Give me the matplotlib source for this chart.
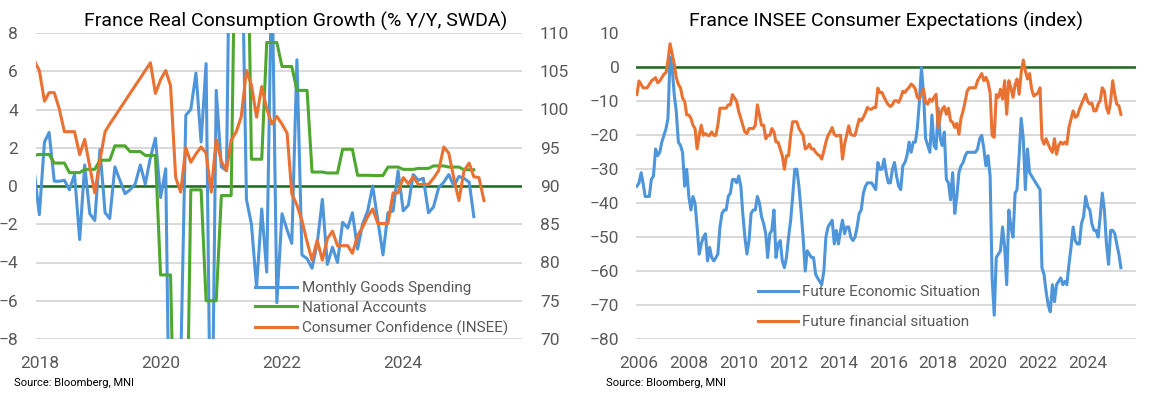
import numpy as np
import pandas as pd
import matplotlib
matplotlib.use("Agg")
import matplotlib.pyplot as plt
import matplotlib.dates as mdates

plt.rcParams['font.family'] = ['Roboto', 'DejaVu Sans']

# ---------------- left chart data (monthly from Dec 2017) ----------------
goods_spending = [0.8,
    -1.5, 2.3, 2.8, 0.25, 0.25, 0.3, -0.2, 0.6, -2.8, 1.1, -1.45, -1.8,
    1.9, -1.4, -1.7, 1.0, 0.3, -0.4, -0.2, 0.1, 1.1, 0.1, 1.5, 2.5,
    -0.6, 0.9, -18, -35, -9.5, 3.7, 4.0, 5.9, 2.3, 6.4, -17, 5.0,
    1.0, 0.8, 20, 45, 15, -0.7, -2.0, -5.3, -1.2, -4.5, 12, -6.1,
    -1.45, -2.3, -3.0, 6.6, -3.6, -3.8, -4.3, -3.0, -0.7, -4.1, -3.2, -4.0,
    -1.9, -2.2, -1.4, -3.3, -2.0, -1.3, 0.0, -1.8, -3.6, -1.4, -1.3, 0.8,
    -1.3, -1.0, 0.6, 0.3, 0.4, -1.4, -1.1, -0.1, 0.2, 0.6, 0.0, 0.5,
    0.4, 0.2, -1.6]

# national accounts: Q4 2017, then quarterly Q1 2018 .. Q1 2025
nat_acc_q4_2017 = 1.6
nat_acc_quarterly = [1.65, 1.2, 0.7, 0.87,
                     1.35, 2.1, 1.8, 1.6,
                     -4.65, -17, -0.2, -6.0,
                     -0.5, 18, 1.4, 7.5,
                     6.25, 5.0, 0.73, 0.68,
                     1.92, 0.56, 0.55, 0.99,
                     0.87, 0.92, 1.05, 0.99,
                     0.85]

consumer_conf = [106.4,
    105.1, 101.1, 102.2, 102.2, 100.1, 97.1, 97.1, 97.1, 94.1, 96.1, 92.5, 89.1,
    93.4, 97.1, 98.1, 99.1, 100.1, 101.1, 102.1, 103.1, 104.1, 105.1, 106.1, 102.1,
    103.9, 105.1, 103.1, 91.1, 89.2, 95.0, 93.1, 94.2, 95.1, 94.3, 89.2, 96.1,
    93.2, 92.0, 96.0, 97.1, 99.1, 105.1, 103.2, 99.0, 103.0, 100.1, 98.1, 99.1,
    98.1, 96.9, 89.0, 87.5, 85.5, 82.7, 80.3, 82.9, 80.3, 83.1, 84.1, 82.2,
    82.2, 82.2, 81.2, 83.5, 84.6, 86.0, 87.0, 85.1, 85.1, 85.1, 89.1, 89.1,
    91.1, 90.3, 91.2, 90.2, 90.2, 90.2, 91.0, 92.0, 95.1, 94.3, 91.0, 88.1,
    92.0, 93.0, 91.2, 91.1, 88.1]

# ---------------- right chart data (monthly from Dec 2005) ----------------
econ_situation = [-35,
    -34, -31, -34, -38, -38, -38, -33, -32, -24, -26, -25, -22,
    -20, -18, -15, 3, 0, -8, -13, -22, -23, -25, -35, -30,
    -38, -42, -38, -40, -47, -55, -52, -50, -49, -57, -53, -56,
    -57, -56, -55, -47, -43, -42, -42, -38, -37, -33, -33, -34,
    -32, -35, -43, -50, -55, -51, -43, -42, -42, -38, -40, -44,
    -46, -49, -56, -49, -48, -42, -56, -52, -51, -57, -59, -56,
    -50, -45, -38, -30, -30, -35, -42, -50, -60, -54, -55, -56,
    -56, -61, -62, -63, -64, -60, -50, -47, -46, -45, -52, -48,
    -52, -48, -45, -49, -47, -47, -50, -51, -50, -47, -43, -42,
    -37, -35, -34, -34, -34, -35, -36, -28, -30, -30, -27, -31,
    -34, -34, -30, -28, -32, -35, -36, -29, -28, -26, -22, -25,
    -22, -22, -18, -10, 0, -8, -21, -23, -25, -14, -23, -24,
    -12, -21, -23, -19, -33, -34, -39, -31, -43, -38, -31, -29,
    -28, -26, -25, -25, -25, -25, -25, -24, -21, -20, -24, -29,
    -26, -32, -62, -73, -56, -55, -54, -47, -53, -64, -42, -47,
    -50, -37, -36, -26, -15, -21, -36, -24, -31, -32, -33, -34,
    -35, -36, -59, -61, -66, -70, -72, -64, -69, -64, -63, -62,
    -64, -63, -64, -58, -53, -47, -51, -52, -52, -46, -44, -38,
    -41, -42, -46, -48, -48, -50, -44, -37, -42, -52, -58, -48,
    -48, -49, -52, -55, -59]

fin_situation = [-8,
    -4, -5, -6, -6, -6, -5, -4, -3.5, -3, -4.5, -4, -3,
    -2, -1.5, 2, 7, 4, 1, -3, -5, -6, -9, -10, -14,
    -14, -15, -17, -18, -24, -20, -17, -20, -19.5, -20, -20, -19,
    -20, -20, -17, -12, -12, -12, -12, -11, -11, -8, -9, -10,
    -13, -15, -17, -19, -19.5, -18, -18, -18, -17, -11, -14, -17,
    -17, -21, -20, -20, -18, -19, -22, -22, -24, -26, -30, -26,
    -26, -20, -16, -16, -16, -18, -19, -20, -24, -23.6, -22.6, -24,
    -24, -25, -25.6, -26, -27, -24.6, -22, -20, -19, -17.7, -19.7, -20.2,
    -20, -20, -27, -22.6, -20, -17.2, -19.7, -20, -20, -17.7, -15.2, -15.7,
    -14.7, -13.3, -11.8, -12.3, -12.3, -11.8, -11.8, -6.1, -7.4, -7.4, -8.8, -10,
    -11, -11.5, -11, -9.8, -9.8, -10.3, -9, -7, -7.4, -6.5, -5.9, -4.9,
    -5.4, -6.4, -8.8, -9.3, -7.9, -6.4, -10.3, -10.8, -9.3, -10, -8.8, -7.9,
    -17.7, -14.3, -12.3, -11.5, -13.8, -12, -15.7, -16.2, -17.7, -16.5, -19.7, -15,
    -12.8, -10, -7, -6, -6, -6, -6, -3.9, -2.8, -1.8, -3.9, -2.9,
    -4.4, -7.5, -20, -20.6, -8, -8.8, -6.4, -9.3, -3.9, -13.8, -3.9, -6,
    -8.8, -5, -3.4, -7.9, -1.5, 2.2, -1, -3.4, -1.8, -6.4, -8.4, -8,
    -7.5, -6, -21, -22.6, -21, -22.6, -24, -25, -21, -25.6, -23, -22,
    -22.6, -22, -22.6, -17.7, -15.2, -12.8, -14.7, -14.3, -12.3, -10.8, -9.3, -7.9,
    -10, -10.8, -10.5, -12.8, -12.8, -10.8, -9.8, -6, -7, -11.8, -13.5, -10,
    -3.9, -8, -10.8, -11.3, -13.8]

BLUE = '#4e95d9'
ORANGE = '#e97132'
GREEN = '#4ea72e'
ZERO = '#1e6b1e'
GRID = '#d9d9d9'
TXT = '#595959'

goods_dates = pd.date_range('2017-12-01', periods=len(goods_spending), freq='MS')
nat_acc = [nat_acc_q4_2017] + list(np.repeat(nat_acc_quarterly, 3))
nat_dates = pd.date_range('2017-12-01', periods=len(nat_acc), freq='MS')
conf_dates = pd.date_range('2017-12-01', periods=len(consumer_conf), freq='MS')
exp_dates = pd.date_range('2005-12-01', periods=len(econ_situation), freq='MS')

fig = plt.figure(figsize=(11.61, 3.93), dpi=100)
W, H = 1161, 393


def style_axis(ax):
    for s in ax.spines.values():
        s.set_visible(False)
    ax.tick_params(length=0, labelsize=12.5, labelcolor=TXT)
    ax.xaxis.set_major_locator(mdates.YearLocator(2))
    ax.xaxis.set_major_formatter(mdates.DateFormatter('%Y'))
    ax.tick_params(axis='x', pad=12)
    ax.yaxis.grid(True, color=GRID, lw=1.4)
    ax.set_axisbelow(True)


# ---------------- left ----------------
ax1 = fig.add_axes([36 / W, 1 - 339 / H, 486 / W, 306 / H])
style_axis(ax1)
ax1.set_ylim(-8, 8)
ax1.set_yticks(np.arange(-8, 9, 2))
ax1.tick_params(axis='y', pad=13)
ax1.set_xlim(pd.Timestamp('2017-12-12'), pd.Timestamp('2025-12-16'))
ax1.axhline(0, color=ZERO, lw=1.8, zorder=1.5)
l1, = ax1.plot(goods_dates, goods_spending, color=BLUE, lw=2.2, label='Monthly Goods Spending')
l2, = ax1.plot(nat_dates, nat_acc, color=GREEN, lw=2.2, label='National Accounts')

ax1b = ax1.twinx()
for s in ax1b.spines.values():
    s.set_visible(False)
ax1b.set_ylim(70, 110)
ax1b.set_yticks(np.arange(70, 111, 5))
ax1b.tick_params(length=0, labelsize=12.5, labelcolor=TXT, pad=13)
l3, = ax1b.plot(conf_dates, consumer_conf, color=ORANGE, lw=2.2, label='Consumer Confidence (INSEE)')

ax1b.legend(handles=[l1, l2, l3], loc='upper left', bbox_to_anchor=(255 / W, 1 - 281 / H),
            bbox_transform=fig.transFigure, frameon=False, fontsize=11, labelcolor=TXT,
            handlelength=2.75, handletextpad=0.3, labelspacing=0.38, borderpad=0, borderaxespad=0)

fig.text(296 / W, 1 - 21 / H, 'France Real Consumption Growth (% Y/Y, SWDA)', ha='center', va='center',
         fontsize=14, color='black')
fig.text(14 / W, 1 - 383 / H, 'Source: Bloomberg, MNI', ha='left', va='center', fontsize=8, color='black')

# ---------------- right ----------------
ax2 = fig.add_axes([636 / W, 1 - 339 / H, 500 / W, 305.5 / H])
style_axis(ax2)
ax2.set_ylim(-80, 10)
ax2.set_yticks(np.arange(-80, 11, 10))
ax2.tick_params(axis='y', pad=12)
ax2.set_xlim(pd.Timestamp('2005-11-18'), pd.Timestamp('2025-12-08'))
ax2.axhline(0, color=ZERO, lw=1.8, zorder=1.5)
ax2.plot(exp_dates, econ_situation, color=BLUE, lw=2.2, label='Future Economic Situation')
ax2.plot(exp_dates, fin_situation, color=ORANGE, lw=2.2, label='Future financial situation')
ax2.legend(loc='upper left', bbox_to_anchor=(758 / W, 1 - 285 / H), bbox_transform=fig.transFigure,
           frameon=False, fontsize=11, labelcolor=TXT, handlelength=2.6, handletextpad=0.3,
           labelspacing=1.06, borderpad=0, borderaxespad=0)

fig.text(886 / W, 1 - 21 / H, 'France INSEE Consumer Expectations (index)', ha='center', va='center',
         fontsize=14, color='black')
fig.text(606 / W, 1 - 383 / H, 'Source: Bloomberg, MNI', ha='left', va='center', fontsize=8, color='black')

fig.savefig('out.png', dpi=100, facecolor='white')
